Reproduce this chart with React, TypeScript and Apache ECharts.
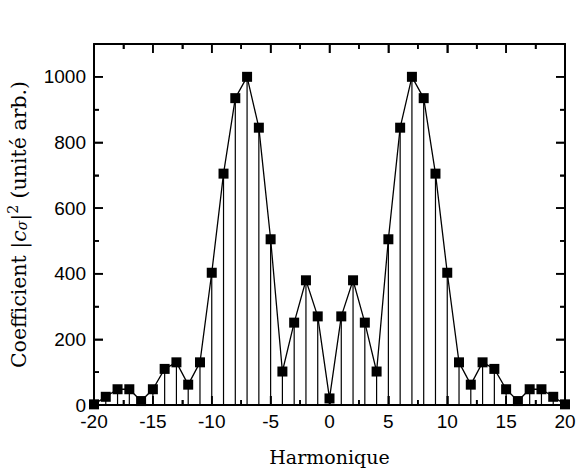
import React, { useEffect, useRef } from "react";
import * as echarts from "echarts";

const harmonics = [-20, -19, -18, -17, -16, -15, -14, -13, -12, -11, -10, -9, -8, -7, -6, -5, -4, -3, -2, -1, 0, 1, 2, 3, 4, 5, 6, 7, 8, 9, 10, 11, 12, 13, 14, 15, 16, 17, 18, 19, 20];
const coefficients = [2, 25, 48, 48, 12, 48, 110, 130, 62, 130, 403, 705, 935, 1000, 845, 505, 102, 251, 380, 270, 20, 270, 380, 251, 102, 505, 845, 1000, 935, 705, 403, 130, 62, 130, 110, 48, 12, 48, 48, 25, 2];

// tick positions and whether each is a major tick
const xTickValues = [-17.5, -15, -12.5, -10, -7.5, -5, -2.5, 0, 2.5, 5, 7.5, 10, 12.5, 15, 17.5];
const xTickMajor = [0, 1, 0, 1, 0, 1, 0, 1, 0, 1, 0, 1, 0, 1, 0];
const yTickValues = [100, 200, 300, 400, 500, 600, 700, 800, 900, 1000];
const yTickMajor = [0, 1, 0, 1, 0, 1, 0, 1, 0, 1];

const X_MIN = -20, X_MAX = 20, Y_MIN = 0, Y_MAX = 1100;

const xName = "Harmonique";
const yName = "{t|Coefficient |}{c|c}{s|σ}{t||}{p|2}{t| (unité arb.)}";

function frame() {
  return {
    axisLine: { show: true, onZero: false, lineStyle: { color: "#000", width: 2 } },
    axisTick: { show: true, inside: true, length: 9, lineStyle: { color: "#000", width: 1.5 } },
    minorTick: { show: true, splitNumber: 2, length: 5, lineStyle: { color: "#000", width: 1.5 } },
    splitLine: { show: false },
  };
}

export default function App() {
  const ref = useRef<HTMLDivElement>(null);
  useEffect(() => {
    if (!ref.current) return;
    const chart = echarts.init(ref.current, undefined, { renderer: "svg" });
    const pts = harmonics.map((h, i) => [h, coefficients[i]]);
    const serif = "DejaVu Serif";
    const sans = "Liberation Sans";
    const ysz = 20.5;
    const MAJ = 9, MIN = 5;
    chart.setOption({
      animation: false,
      backgroundColor: "#fff",
      grid: { left: 94, right: 13, top: 44, bottom: 69, containLabel: false, outerBoundsMode: "none" },
      xAxis: [
        {
          type: "value",
          min: X_MIN,
          max: X_MAX,
          interval: 5,
          position: "bottom",
          ...frame(),
          axisLabel: { color: "#000", fontFamily: sans, fontSize: 19, margin: 7, formatter: (v: number) => String(v) },
          name: xName,
          nameLocation: "middle",
          nameGap: 42,
          nameTextStyle: { color: "#000", fontFamily: serif, fontSize: 19 },
        },
        {
          type: "value",
          min: X_MIN,
          max: X_MAX,
          interval: 5,
          position: "top",
          ...frame(),
          axisLabel: { show: false },
        },
      ],
      yAxis: [
        {
          type: "value",
          min: Y_MIN,
          max: Y_MAX,
          interval: 200,
          position: "left",
          ...frame(),
          axisLabel: { color: "#000", fontFamily: sans, fontSize: 19, margin: 8, showMaxLabel: false, formatter: (v: number) => String(v) },
          name: yName,
          nameLocation: "middle",
          nameRotate: 90,
          nameGap: 63,
          nameTextStyle: {
            color: "#000",
            fontFamily: serif,
            fontSize: ysz,
            rich: {
              t: { fontFamily: serif, fontSize: ysz, color: "#000" },
              c: { fontFamily: serif, fontSize: ysz, fontStyle: "italic", color: "#000" },
              s: { fontFamily: serif, fontSize: 14, fontStyle: "italic", color: "#000", padding: [7, 0, 0, 0] },
              p: { fontFamily: serif, fontSize: 14, color: "#000", padding: [0, 0, 11, 0] },
            },
          },
        },
        {
          type: "value",
          min: Y_MIN,
          max: Y_MAX,
          interval: 200,
          position: "right",
          ...frame(),
          axisLabel: { show: false },
        },
      ],
      series: [
        {
          type: "bar",
          data: pts,
          xAxisIndex: 0,
          yAxisIndex: 0,
          barWidth: 1.2,
          itemStyle: { color: "#000" },
          z: 2,
        },
        {
          type: "line",
          data: pts,
          xAxisIndex: 0,
          yAxisIndex: 0,
          symbol: "rect",
          symbolSize: 10,
          lineStyle: { color: "#000", width: 1.3 },
          itemStyle: { color: "#000" },
          z: 3,
        },
      ],
    });

    // Frame ticks drawn through the chart's own scales
    const finder = { xAxisIndex: 0, yAxisIndex: 0 };
    const st = { stroke: "#000", lineWidth: 1.6 };
    const elements: any[] = [];
    xTickValues.forEach((v, i) => {
      const len = xTickMajor[i] ? MAJ : MIN;
      const b = chart.convertToPixel(finder, [v, Y_MIN]) as number[];
      const t = chart.convertToPixel(finder, [v, Y_MAX]) as number[];
      if (!b || !t) return;
      elements.push({ type: "line", z: 50, silent: true, shape: { x1: b[0], y1: b[1], x2: b[0], y2: b[1] - len }, style: st });
      elements.push({ type: "line", z: 50, silent: true, shape: { x1: t[0], y1: t[1], x2: t[0], y2: t[1] + len }, style: st });
    });
    yTickValues.forEach((v, i) => {
      const len = yTickMajor[i] ? MAJ : MIN;
      const l = chart.convertToPixel(finder, [X_MIN, v]) as number[];
      const r = chart.convertToPixel(finder, [X_MAX, v]) as number[];
      if (!l || !r) return;
      elements.push({ type: "line", z: 50, silent: true, shape: { x1: l[0], y1: l[1], x2: l[0] + len, y2: l[1] }, style: st });
      elements.push({ type: "line", z: 50, silent: true, shape: { x1: r[0], y1: r[1], x2: r[0] - len, y2: r[1] }, style: st });
    });
    chart.setOption({ graphic: { elements } });

    return () => chart.dispose();
  }, []);
  return <div ref={ref} style={{ width: 578, height: 474, position: "absolute", left: 0, top: 0 }} />;
}
